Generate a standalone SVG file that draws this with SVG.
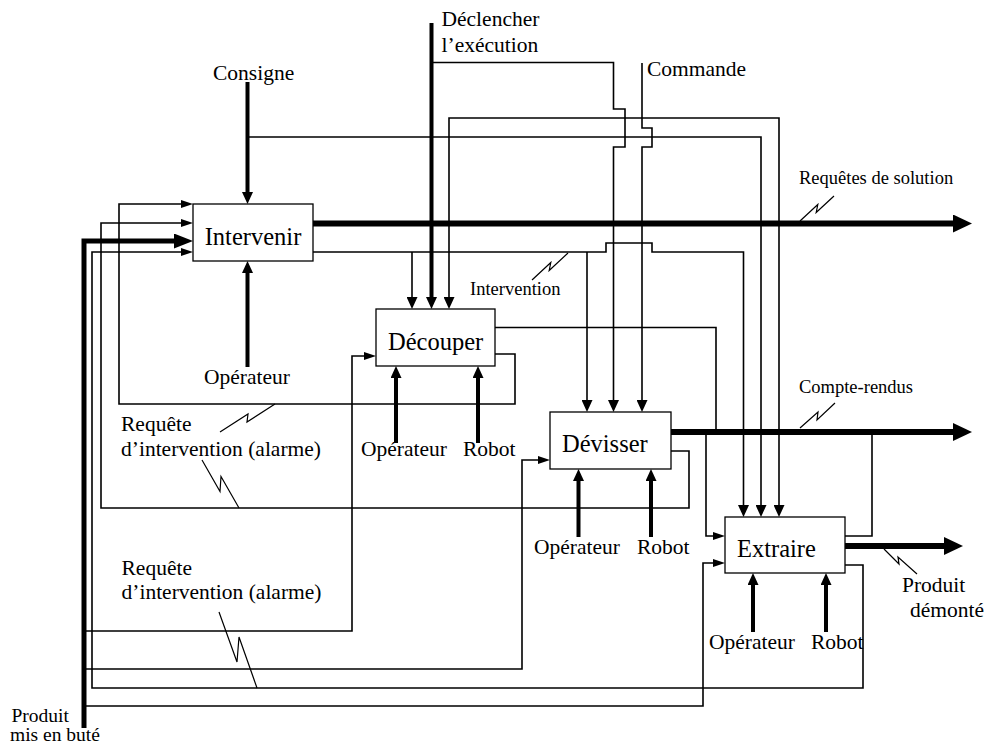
<svg xmlns="http://www.w3.org/2000/svg" width="987" height="746" viewBox="0 0 987 746">
<style>
text{font-family:"Liberation Serif","Times New Roman",serif;fill:#000}
.bx{font-size:24.5px}
.lb{font-size:21.5px}
.sm{font-size:18.5px}
.pr{font-size:19.5px}
rect{fill:#fff;stroke:#000;stroke-width:1.3}
.t{fill:none;stroke:#000;stroke-width:1.6}
.k{fill:none;stroke:#000;stroke-width:4}
.p{fill:none;stroke:#000;stroke-width:5}
.o{fill:none;stroke:#000;stroke-width:6}
.z{fill:none;stroke:#000;stroke-width:1.2}
</style>
<defs>
<marker id="ah" markerUnits="userSpaceOnUse" viewBox="0 0 12 8" markerWidth="12" markerHeight="8" refX="0" refY="4" orient="auto"><path d="M0,0L12,4L0,8z"/></marker>
<marker id="av" markerUnits="userSpaceOnUse" viewBox="0 0 12 11" markerWidth="12" markerHeight="11" refX="0" refY="5.5" orient="auto"><path d="M0,0L12,5.5L0,11z"/></marker>
<marker id="ai" markerUnits="userSpaceOnUse" viewBox="0 0 19 15" markerWidth="19" markerHeight="15" refX="0" refY="7.5" orient="auto"><path d="M0,0L19,7.5L0,15z"/></marker>
<marker id="ao" markerUnits="userSpaceOnUse" viewBox="0 0 19 18" markerWidth="19" markerHeight="18" refX="0" refY="9" orient="auto"><path d="M0,0L19,9L0,18z"/></marker>
</defs>

<g id="connectors">
<!-- controls -->
<path class="k" d="M247.5,82V192" marker-end="url(#av)"/>
<path class="t" d="M247.5,137H761V505" marker-end="url(#av)"/>
<path class="k" d="M431.5,23V297" marker-end="url(#av)"/>
<path class="t" d="M431.5,62.5H613.5V109H625V147H613.5V400" marker-end="url(#av)"/>
<path class="t" d="M642,63V128H652V147H642V400" marker-end="url(#av)"/>
<path class="t" d="M642,118H449V297" marker-end="url(#av)"/>
<path class="t" d="M642,118H779V505" marker-end="url(#av)"/>
<path class="t" d="M313,252H606V243H652V252H743.5V505" marker-end="url(#av)"/>
<path class="t" d="M412,252V297" marker-end="url(#av)"/>
<path class="t" d="M587,252V400" marker-end="url(#av)"/>
<!-- outputs -->
<path class="o" d="M313,223.5H953" marker-end="url(#ao)"/>
<path class="o" d="M671,432H953" marker-end="url(#ao)"/>
<path class="o" d="M845,546H944" marker-end="url(#ao)"/>
<path class="t" d="M495,327.5H716V432"/>
<path class="t" d="M845,536H872V432"/>
<path class="t" d="M706,432V536H713" marker-end="url(#ah)"/>
<!-- feedback loops -->
<path class="t" d="M495,354H515V404H119V204H181" marker-end="url(#ah)"/>
<path class="t" d="M671,451H689V508H101V223H181" marker-end="url(#ah)"/>
<path class="t" d="M845,565H863V688H92V252H181" marker-end="url(#ah)"/>
<!-- product input -->
<path class="p" d="M84,728V241H174" marker-end="url(#ai)"/>
<path class="t" d="M84,631H352V356H364" marker-end="url(#ah)"/>
<path class="t" d="M84,669H522V460H538" marker-end="url(#ah)"/>
<path class="t" d="M84,706H703V563H713" marker-end="url(#ah)"/>
<!-- mechanisms -->
<path class="k" d="M247.5,367V273" marker-end="url(#av)"/>
<path class="k" d="M396,443V378" marker-end="url(#av)"/>
<path class="k" d="M478,443V378" marker-end="url(#av)"/>
<path class="k" d="M578.5,537V481" marker-end="url(#av)"/>
<path class="k" d="M651,537V481" marker-end="url(#av)"/>
<path class="k" d="M753,632V585" marker-end="url(#av)"/>
<path class="k" d="M826,632V585" marker-end="url(#av)"/>
<!-- label squiggles -->
<path class="z" d="M800,221L817.8,204.5L816.2,212.5L834,196"/>
<path class="z" d="M532,280L550.8,262.5L549.2,270.5L568,253"/>
<path class="z" d="M800,428L818,412L817,420L835,403"/>
<path class="z" d="M220,432L248,414L247,422L275,404"/>
<path class="z" d="M202,460L220,491.5L221,476.5L239,508"/>
<path class="z" d="M219,612L237,662L239,637L257,688"/>
<path class="z" d="M884,549L899,564L898,557L917,574"/>
</g>

<g id="intervenir">
<rect x="193" y="204" width="120" height="57"/>
<text class="bx" x="253" y="245" text-anchor="middle">Intervenir</text>
</g>
<g id="decouper">
<rect x="376" y="309" width="119" height="57"/>
<text class="bx" x="388" y="350">Découper</text>
</g>
<g id="devisser">
<rect x="550" y="412" width="121" height="57"/>
<text class="bx" x="562" y="452">Dévisser</text>
</g>
<g id="extraire">
<rect x="725" y="517" width="120" height="56"/>
<text class="bx" x="737" y="557">Extraire</text>
</g>

<g id="labels">
<text class="lb" x="213" y="80">Consigne</text>
<text class="lb" x="441.5" y="26">Déclencher</text>
<text class="lb" x="441.5" y="51.5">l’exécution</text>
<text class="lb" x="647" y="76">Commande</text>
<text class="sm" x="799" y="184">Requêtes de solution</text>
<text class="sm" x="470" y="295">Intervention</text>
<text class="sm" x="799" y="393">Compte-rendus</text>
<text class="lb" x="204" y="384">Opérateur</text>
<text class="lb" x="361" y="456">Opérateur</text>
<text class="lb" x="463" y="456">Robot</text>
<text class="lb" x="534" y="554">Opérateur</text>
<text class="lb" x="637" y="554">Robot</text>
<text class="lb" x="709" y="649">Opérateur</text>
<text class="lb" x="811" y="649">Robot</text>
<text class="lb" x="121" y="431">Requête</text>
<text class="lb" x="121" y="456">d’intervention (alarme)</text>
<text class="lb" x="121.5" y="574.5">Requête</text>
<text class="lb" x="121.5" y="599">d’intervention (alarme)</text>
<text class="pr" x="11.5" y="722">Produit</text>
<text class="pr" x="10" y="741">mis en buté</text>
<text class="lb" x="902" y="592">Produit</text>
<text class="lb" x="910" y="617">démonté</text>
</g>
</svg>
